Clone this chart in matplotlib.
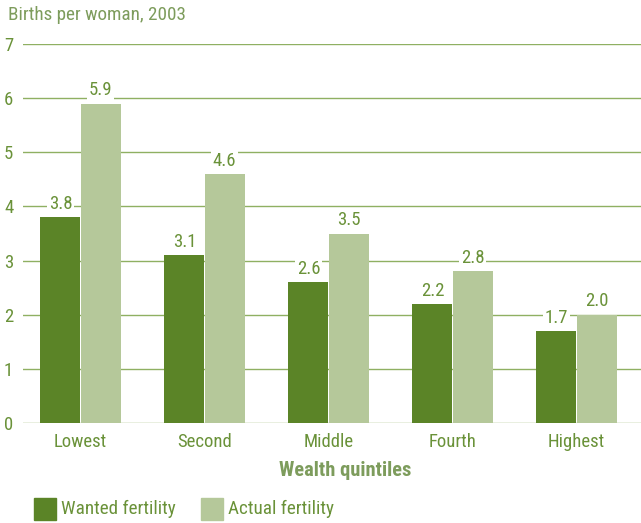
import matplotlib
matplotlib.use("Agg")
import matplotlib.pyplot as plt
from matplotlib.patches import Rectangle

categories = ["Lowest", "Second", "Middle", "Fourth", "Highest"]
wanted = [3.8, 3.1, 2.6, 2.2, 1.7]
actual = [5.9, 4.6, 3.5, 2.8, 2.0]
yticks = [0, 1, 2, 3, 4, 5, 6, 7]

dark = "#5b8427"
light = "#b5c89a"
text_c = "#6a9239"
title_c = "#7d9c5c"
grid_c = "#8fb062"

plt.rcParams["font.family"] = ["Roboto Condensed", "Archivo Narrow",
                               "Fira Sans Condensed", "DejaVu Sans"]

fig = plt.figure(figsize=(6.41, 5.23), dpi=100)
ax = fig.add_axes([23 / 641, 1 - 423 / 523, 1 - 23 / 641, (423 - 44) / 523])

w = 40 / 124
x = list(range(len(categories)))
ax.bar([i - w / 2 - 0.002 for i in x], wanted, width=w, color=dark, zorder=2)
ax.bar([i + w / 2 + 0.002 for i in x], actual, width=w, color=light, zorder=2)

for i in x:
    for xi, v in ((i - w / 2, wanted[i]), (i + w / 2, actual[i])):
        ax.text(xi, v + 0.08, f"{v:.1f}", ha="center", va="bottom", fontsize=13.5,
                color=text_c, zorder=3,
                bbox=dict(facecolor="white", edgecolor="none", pad=1.5))

ax.set_xlim((23 - 80.5) / 124, (641 - 80.5) / 124)
ax.set_ylim(0, 7)
ax.set_yticks(yticks)
ax.set_yticklabels([str(t) for t in yticks])
ax.set_xticks(x)
ax.set_xticklabels(categories)
ax.yaxis.grid(True, color=grid_c, linewidth=1, zorder=0)
ax.set_axisbelow(True)
for s in ax.spines.values():
    s.set_visible(False)
ax.tick_params(axis="both", length=0, colors=text_c, labelsize=13.5)
ax.tick_params(axis="y", pad=7)
ax.tick_params(axis="x", pad=7.5)

fig.text(8 / 641, 1 - 15 / 523, "Births per woman, 2003", fontsize=13.8,
         color=title_c, va="center", ha="left")
fig.text(345 / 641, 1 - 471 / 523, "Wealth quintiles", fontsize=14.8,
         color=title_c, fontweight="bold", va="center", ha="center")

# legend
for x0, col, lab in ((34, dark, "Wanted fertility"), (201, light, "Actual fertility")):
    fig.patches.append(Rectangle((x0 / 641, 1 - 520 / 523), 22 / 641, 22 / 523,
                                 transform=fig.transFigure, color=col))
    fig.text((x0 + 27) / 641, 1 - 509 / 523, lab, fontsize=13.8, color=text_c,
             va="center", ha="left")

fig.savefig("out.png", dpi=100)
